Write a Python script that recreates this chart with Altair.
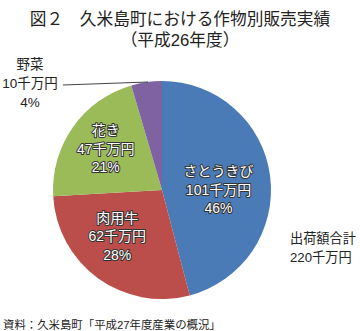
import math
import altair as alt
import pandas as pd

# ---- data ----
crops = ["さとうきび", "肉用牛", "花き", "野菜"]
values = [101, 62, 47, 10]
percents = [46, 28, 21, 4]
colors = ["#4a7bb7", "#bb4d4b", "#9bbb59", "#7e62a1"]
unit = "千万円"
title_lines = ["図２　久米島町における作物別販売実績", "（平成26年度）"]
total_lines = ["出荷額合計", "220千万円"]
source_text = "資料：久米島町「平成27年度産業の概況」"

df = pd.DataFrame({"crop": crops, "value": values, "pct": percents, "idx": list(range(len(crops)))})
df["label"] = df["crop"] + "\n" + df["value"].astype(str) + unit + "\n" + df["pct"].astype(str) + "%"

FONT = "Liberation Sans, Noto Sans CJK JP"
CX, CY, R = 162, 190, 109
TXT = "#222222"
LH = 18.5

base = alt.Chart(df)

pie = base.mark_arc(outerRadius=R).encode(
    theta=alt.Theta("value:Q", stack=True),
    color=alt.Color("crop:N", scale=alt.Scale(domain=crops, range=colors), legend=None),
    order=alt.Order("idx:Q"),
    x=alt.value(CX),
    y=alt.value(CY),
)


def inner_label(name, radius, dx=0, dy=0, halo=False):
    t = (
        base.transform_window(cum="sum(value)", sort=[alt.SortField("idx")])
        .transform_joinaggregate(tot="sum(value)")
        .transform_calculate(mid="(datum.cum - datum.value / 2) / datum.tot")
        .transform_filter(alt.datum.crop == name)
    )
    kw = dict(
        radius=radius, dx=dx, dy=dy - LH, font=FONT, fontSize=14, lineBreak="\n",
        lineHeight=LH, align="center", baseline="middle",
    )
    if halo:
        m = t.mark_text(color="#333333", stroke="#333333", strokeWidth=2.0, strokeJoin="round", **kw)
    else:
        m = t.mark_text(color="white", **kw)
    return m.encode(
        theta=alt.Theta("mid:Q", stack=False, scale=alt.Scale(domain=[0, 1], range=[0, 2 * math.pi])),
        text="label:N",
        x=alt.value(CX),
        y=alt.value(CY),
    )


label_specs = [("さとうきび", 56, 1, 8), ("肉用牛", 66, -6, -6), ("花き", 70, 1, 0)]
labels = []
for halo in (True, False):
    for name, r, dx, dy in label_specs:
        labels.append(inner_label(name, r, dx, dy, halo))

veg_label = base.transform_filter(alt.datum.crop == "野菜").mark_text(
    font=FONT, fontSize=13.5, lineBreak="\n", lineHeight=19, align="center",
    baseline="middle", color=TXT,
).encode(text="label:N", x=alt.value(30), y=alt.value(65))

leader = base.transform_filter(alt.datum.crop == "野菜").mark_rule(
    color="#444444", strokeWidth=1
).encode(x=alt.value(63), y=alt.value(85), x2=alt.value(148), y2=alt.value(82))

title = alt.Chart(pd.DataFrame({"t": ["\n".join(title_lines)]})).mark_text(
    font=FONT, fontSize=16.7, lineBreak="\n", lineHeight=21, align="center",
    baseline="middle", color=TXT,
).encode(text="t:N", x=alt.value(180), y=alt.value(19.5))

total = alt.Chart(pd.DataFrame({"t": ["\n".join(total_lines)]})).mark_text(
    font=FONT, fontSize=13.2, lineBreak="\n", lineHeight=18.5, align="left",
    baseline="middle", color=TXT,
).encode(text="t:N", x=alt.value(290), y=alt.value(239))

source = alt.Chart(pd.DataFrame({"t": [source_text]})).mark_text(
    font=FONT, fontSize=11.4, align="left", baseline="middle", color=TXT,
).encode(text="t:N", x=alt.value(3), y=alt.value(326))

chart = (
    alt.layer(pie, *labels, leader, veg_label, title, total, source)
    .resolve_scale(theta="independent")
    .properties(width=360, height=331, autosize=alt.AutoSizeParams(type="none"), padding=0,
                background="white")
    .configure_view(stroke=None)
)

chart.save("out.html", embed_options={"renderer": "svg", "actions": False})
